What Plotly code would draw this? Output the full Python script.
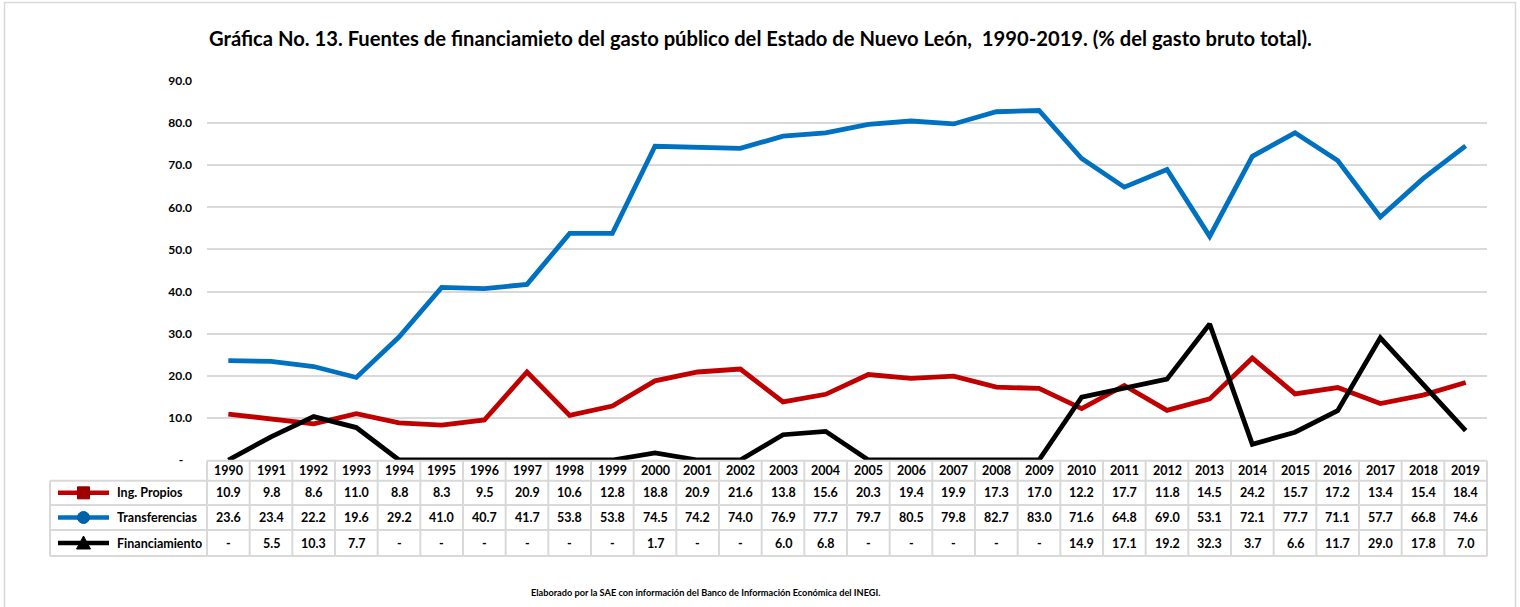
import plotly.graph_objects as go

years = list(range(1990, 2020))
ing_propios = [10.9, 9.8, 8.6, 11.0, 8.8, 8.3, 9.5, 20.9, 10.6, 12.8, 18.8, 20.9, 21.6, 13.8, 15.6,
               20.3, 19.4, 19.9, 17.3, 17.0, 12.2, 17.7, 11.8, 14.5, 24.2, 15.7, 17.2, 13.4, 15.4, 18.4]
transferencias = [23.6, 23.4, 22.2, 19.6, 29.2, 41.0, 40.7, 41.7, 53.8, 53.8, 74.5, 74.2, 74.0, 76.9, 77.7,
                  79.7, 80.5, 79.8, 82.7, 83.0, 71.6, 64.8, 69.0, 53.1, 72.1, 77.7, 71.1, 57.7, 66.8, 74.6]
financiamiento = [0, 5.5, 10.3, 7.7, 0, 0, 0, 0, 0, 0, 1.7, 0, 0, 6.0, 6.8,
                  0, 0, 0, 0, 0, 14.9, 17.1, 19.2, 32.3, 3.7, 6.6, 11.7, 29.0, 17.8, 7.0]
series_names = ["Ing. Propios", "Transferencias", "Financiamiento"]
series_colors = ["#C00000", "#0070C0", "#000000"]
y_ticks = [0, 10, 20, 30, 40, 50, 60, 70, 80, 90]

title = ("Gráfica No. 13. Fuentes de financiamieto del gasto público del Estado de Nuevo León,  "
         "1990-2019. (% del gasto bruto total).")
footer = "Elaborado por la SAE con información del Banco de Información Económica del INEGI."

W, H = 1520, 607
L, R, T, B = 207, 1487, 81, 460
FONT = "Lato"
GRID = "#D9D9D9"


def xp(px):
    return (px - L) / (R - L)


def yp(py):
    return (B - py) / (B - T)


fig = go.Figure()
xs = list(range(len(years)))
all_series = [ing_propios, transferencias, financiamiento]
for name, vals, col in zip(series_names, all_series, series_colors):
    fig.add_trace(go.Scatter(x=xs, y=vals, mode="lines", name=name,
                             line=dict(color=col, width=4.8), showlegend=False,
                             cliponaxis=False))

shapes = []
annotations = []

# outer border
shapes.append(dict(type="rect", xref="paper", yref="paper", x0=xp(4.5), x1=xp(1515.5),
                   y0=yp(612), y1=yp(2.5), line=dict(color=GRID, width=1.5), layer="below"))

# table geometry
row_edges = [460.7, 480.7, 505.0, 530.0, 556.0]
tbl_left = 50
ncol = len(years)

for i, ry in enumerate(row_edges):
    x0 = L if i == 0 else tbl_left
    shapes.append(dict(type="line", xref="paper", yref="paper", x0=xp(x0), x1=1,
                       y0=yp(ry), y1=yp(ry), line=dict(color=GRID, width=2)))
for c in range(ncol + 1):
    shapes.append(dict(type="line", xref="paper", yref="paper", x0=c / ncol, x1=c / ncol,
                       y0=yp(row_edges[0]), y1=yp(row_edges[-1]), line=dict(color=GRID, width=2)))
shapes.append(dict(type="line", xref="paper", yref="paper", x0=xp(tbl_left), x1=xp(tbl_left),
                   y0=yp(row_edges[1]), y1=yp(row_edges[-1]), line=dict(color=GRID, width=2)))

tfont = dict(family=FONT, size=12.5, color="#000000")
yc = (row_edges[0] + row_edges[1]) / 2
for i, yr in enumerate(years):
    annotations.append(dict(x=i, xref="x", y=yp(yc), yref="paper", text="<b>%d</b>" % yr,
                            showarrow=False, font=tfont, xanchor="center", yanchor="middle"))

for r, (name, vals, col) in enumerate(zip(series_names, all_series, series_colors)):
    yc = (row_edges[r + 1] + row_edges[r + 2]) / 2
    for i, v in enumerate(vals):
        txt = "-" if v == 0 else "%.1f" % v
        annotations.append(dict(x=i, xref="x", y=yp(yc), yref="paper", text="<b>%s</b>" % txt,
                                showarrow=False, font=tfont, xanchor="center", yanchor="middle"))
    annotations.append(dict(x=xp(115), xref="paper", y=yp(yc), yref="paper", text="<b>%s</b>" % name,
                            showarrow=False, font=tfont, xanchor="left", yanchor="middle"))
    shapes.append(dict(type="line", xref="paper", yref="paper", x0=xp(58), x1=xp(109),
                       y0=yp(yc), y1=yp(yc), line=dict(color=col, width=4.5)))
    cx, s = 83.5, 6
    if r == 0:
        shapes.append(dict(type="rect", xref="paper", yref="paper", x0=xp(cx - s), x1=xp(cx + s),
                           y0=yp(yc + s), y1=yp(yc - s), fillcolor="#A00000",
                           line=dict(color="#8B0000", width=1)))
    elif r == 1:
        shapes.append(dict(type="circle", xref="paper", yref="paper", x0=xp(cx - s), x1=xp(cx + s),
                           y0=yp(yc + s), y1=yp(yc - s), fillcolor="#0063AA",
                           line=dict(color="#005A9C", width=1)))
    else:
        path = "M %f %f L %f %f L %f %f Z" % (xp(cx - s - 1), yp(yc + s), xp(cx + s + 1), yp(yc + s),
                                             xp(cx), yp(yc - s - 1))
        shapes.append(dict(type="path", xref="paper", yref="paper", path=path,
                           fillcolor="#000000", line=dict(color="#000000", width=1)))

annotations.append(dict(x=xp(760), xref="paper", y=yp(38), yref="paper", text="<b>%s</b>" % title,
                        showarrow=False, font=dict(family=FONT, size=20.2, color="#000000"),
                        xanchor="center", yanchor="middle"))
annotations.append(dict(x=xp(705), xref="paper", y=yp(592), yref="paper", text="<b>%s</b>" % footer,
                        showarrow=False, font=dict(family=FONT, size=9.2, color="#000000"),
                        xanchor="center", yanchor="middle"))

tick_text = ["<b>-\u00a0\u00a0\u00a0</b>"] + ["<b>%.1f</b>" % v for v in y_ticks[1:]]

fig.update_layout(
    width=W, height=H,
    margin=dict(l=L, r=W - R, t=T, b=H - B, pad=0),
    paper_bgcolor="#FFFFFF", plot_bgcolor="#FFFFFF",
    xaxis=dict(range=[-0.5, ncol - 0.5], showticklabels=False, showgrid=False, zeroline=False,
               showline=False, ticks=""),
    yaxis=dict(range=[0, 90], tickvals=y_ticks, ticktext=tick_text, showgrid=True,
               gridcolor=GRID, gridwidth=1.5, zeroline=False, showline=False, ticks="",
               ticklabelstandoff=14, tickfont=dict(family=FONT, size=12, color="#000000")),
    shapes=shapes, annotations=annotations,
)

fig.write_html("out.html", config={"displayModeBar": False},
               post_script="document.body.style.margin='0';")
